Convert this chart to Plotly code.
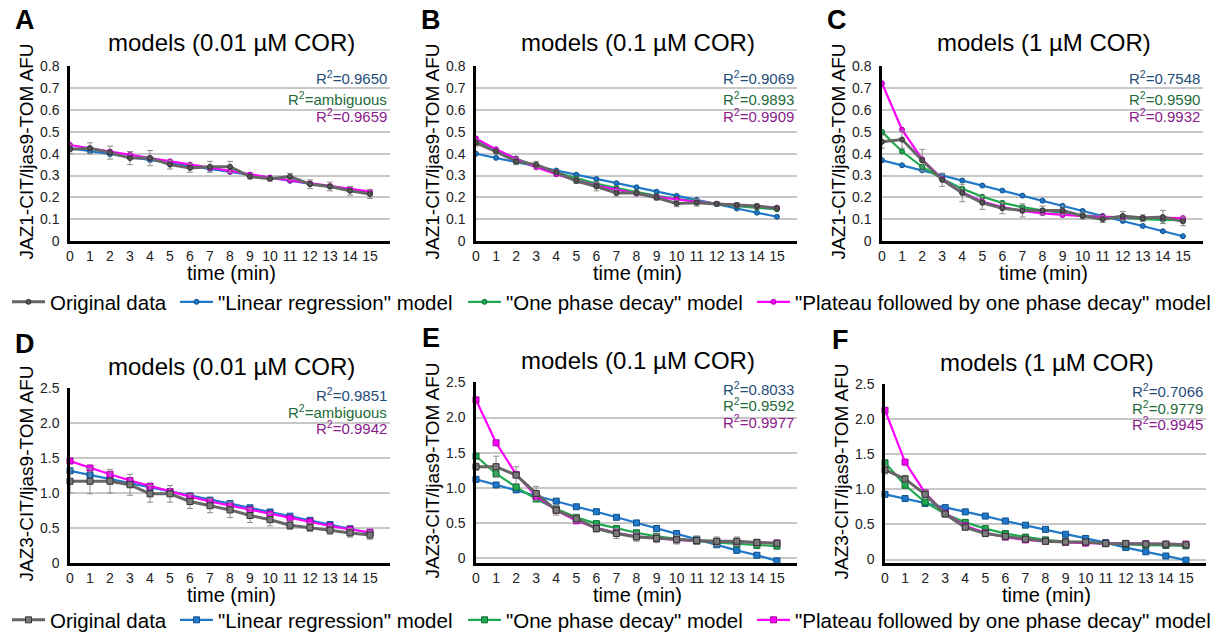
import plotly.graph_objects as go

# Time points (min)
TIME = list(range(16))
X_TICKS = list(range(16))

# --- JAZ1 panels (A-C) ---
A_orig = [0.420, 0.425, 0.405, 0.380, 0.380, 0.350, 0.335, 0.340, 0.340, 0.295, 0.285, 0.295, 0.260, 0.250, 0.230, 0.215]
A_err = [0.020, 0.025, 0.030, 0.030, 0.035, 0.020, 0.020, 0.025, 0.025, 0.010, 0.010, 0.015, 0.020, 0.020, 0.020, 0.020]
A_lin = [0.425, 0.411, 0.398, 0.384, 0.371, 0.357, 0.344, 0.330, 0.317, 0.303, 0.290, 0.276, 0.263, 0.249, 0.236, 0.222]
A_one = None
A_plat = [0.440, 0.425, 0.410, 0.395, 0.380, 0.365, 0.350, 0.334, 0.318, 0.304, 0.291, 0.278, 0.265, 0.252, 0.239, 0.226]

B_orig = [0.450, 0.410, 0.365, 0.350, 0.315, 0.275, 0.250, 0.220, 0.220, 0.198, 0.172, 0.175, 0.170, 0.165, 0.160, 0.150]
B_err = [0.015, 0.010, 0.015, 0.015, 0.010, 0.010, 0.020, 0.015, 0.010, 0.010, 0.015, 0.015, 0.010, 0.010, 0.010, 0.010]
B_lin = [0.400, 0.381, 0.361, 0.342, 0.323, 0.304, 0.284, 0.265, 0.246, 0.226, 0.207, 0.188, 0.169, 0.149, 0.130, 0.111]
B_one = [0.460, 0.417, 0.378, 0.344, 0.314, 0.287, 0.263, 0.242, 0.224, 0.207, 0.193, 0.181, 0.170, 0.160, 0.152, 0.145]
B_plat = [0.470, 0.420, 0.376, 0.338, 0.306, 0.278, 0.254, 0.234, 0.217, 0.202, 0.190, 0.180, 0.171, 0.164, 0.158, 0.153]

C_orig = [0.455, 0.465, 0.370, 0.280, 0.220, 0.175, 0.150, 0.140, 0.140, 0.140, 0.115, 0.100, 0.115, 0.105, 0.110, 0.090]
C_err = [0.030, 0.040, 0.050, 0.030, 0.040, 0.030, 0.025, 0.030, 0.020, 0.020, 0.015, 0.015, 0.020, 0.015, 0.030, 0.020]
C_lin = [0.370, 0.347, 0.324, 0.300, 0.277, 0.254, 0.231, 0.208, 0.185, 0.161, 0.138, 0.115, 0.092, 0.069, 0.045, 0.022]
C_one = [0.500, 0.410, 0.340, 0.285, 0.240, 0.203, 0.175, 0.155, 0.140, 0.128, 0.118, 0.111, 0.105, 0.100, 0.097, 0.095]
C_plat = [0.723, 0.510, 0.375, 0.285, 0.223, 0.181, 0.155, 0.138, 0.127, 0.119, 0.114, 0.111, 0.109, 0.107, 0.106, 0.105]

# --- JAZ3 panels (D-F) ---
D_orig = [1.17, 1.17, 1.17, 1.12, 0.99, 0.99, 0.88, 0.82, 0.76, 0.68, 0.62, 0.54, 0.51, 0.47, 0.43, 0.40]
D_err = [0.17, 0.18, 0.17, 0.15, 0.12, 0.12, 0.10, 0.10, 0.11, 0.10, 0.09, 0.06, 0.06, 0.06, 0.06, 0.06]
D_lin = [1.32, 1.26, 1.20, 1.14, 1.08, 1.02, 0.96, 0.90, 0.85, 0.79, 0.73, 0.67, 0.61, 0.55, 0.49, 0.43]
D_one = None
D_plat = [1.46, 1.36, 1.27, 1.18, 1.10, 1.02, 0.95, 0.88, 0.82, 0.76, 0.70, 0.64, 0.59, 0.53, 0.48, 0.44]

E_orig = [1.30, 1.30, 1.18, 0.92, 0.68, 0.56, 0.42, 0.35, 0.30, 0.28, 0.26, 0.25, 0.24, 0.24, 0.22, 0.21]
E_err = [0.05, 0.15, 0.12, 0.10, 0.07, 0.05, 0.05, 0.07, 0.06, 0.06, 0.06, 0.05, 0.06, 0.06, 0.05, 0.04]
E_lin = [1.12, 1.04, 0.97, 0.89, 0.81, 0.73, 0.66, 0.58, 0.50, 0.42, 0.35, 0.27, 0.19, 0.11, 0.04, -0.04]
E_one = [1.45, 1.20, 1.01, 0.84, 0.70, 0.58, 0.49, 0.42, 0.36, 0.31, 0.27, 0.24, 0.22, 0.20, 0.18, 0.17]
E_plat = [2.25, 1.64, 1.19, 0.88, 0.68, 0.53, 0.43, 0.36, 0.31, 0.28, 0.26, 0.245, 0.235, 0.225, 0.22, 0.215]

F_orig = [1.28, 1.15, 0.93, 0.65, 0.46, 0.37, 0.33, 0.29, 0.26, 0.25, 0.25, 0.23, 0.23, 0.22, 0.22, 0.21]
F_err = [0.06, 0.05, 0.05, 0.03, 0.03, 0.02, 0.02, 0.02, 0.02, 0.02, 0.02, 0.02, 0.02, 0.02, 0.02, 0.02]
F_lin = [0.93, 0.87, 0.80, 0.74, 0.68, 0.62, 0.55, 0.49, 0.43, 0.36, 0.30, 0.24, 0.17, 0.11, 0.05, -0.01]
F_one = [1.38, 1.06, 0.82, 0.65, 0.53, 0.44, 0.37, 0.32, 0.28, 0.255, 0.24, 0.225, 0.21, 0.205, 0.20, 0.195]
F_plat = [2.13, 1.39, 0.95, 0.66, 0.48, 0.38, 0.32, 0.28, 0.26, 0.245, 0.235, 0.23, 0.225, 0.225, 0.22, 0.22]

# R² labels per panel: (linear, one phase, plateau)
R2_A = ["0.9650", "ambiguous", "0.9659"]
R2_B = ["0.9069", "0.9893", "0.9909"]
R2_C = ["0.7548", "0.9590", "0.9932"]
R2_D = ["0.9851", "ambiguous", "0.9942"]
R2_E = ["0.8033", "0.9592", "0.9977"]
R2_F = ["0.7066", "0.9779", "0.9945"]

LETTERS = ["A", "B", "C", "D", "E", "F"]
TITLES = ["models (0.01 µM COR)", "models (0.1 µM COR)", "models (1 µM COR)",
          "models (0.01 µM COR)", "models (0.1 µM COR)", "models (1 µM COR)"]
Y_TITLES = ["JAZ1-CIT/ljas9-TOM AFU"] * 3 + ["JAZ3-CIT/ljas9-TOM AFU"] * 3

Y_TICKS_TOP = [0, 0.1, 0.2, 0.3, 0.4, 0.5, 0.6, 0.7, 0.8]
Y_TEXT_TOP = ["0", "0.1", "0.2", "0.3", "0.4", "0.5", "0.6", "0.7", "0.8"]
Y_TICKS_BOT = [0, 0.5, 1.0, 1.5, 2.0, 2.5]
Y_TEXT_BOT = ["0", "0.5", "1.0", "1.5", "2.0", "2.5"]

SERIES_NAMES = ["Original data", "\"Linear regression\" model",
                "\"One phase decay\" model", "\"Plateau followed by one phase decay\" model"]

PANELS = [
    (A_orig, A_err, A_lin, A_one, A_plat, R2_A),
    (B_orig, B_err, B_lin, B_one, B_plat, R2_B),
    (C_orig, C_err, C_lin, C_one, C_plat, R2_C),
    (D_orig, D_err, D_lin, D_one, D_plat, R2_D),
    (E_orig, E_err, E_lin, E_one, E_plat, R2_E),
    (F_orig, F_err, F_lin, F_one, F_plat, R2_F),
]

# ---------------- styling / layout ----------------
W, H = 1218, 633
FONT = "Arial, 'Liberation Sans', sans-serif"

# plot-area boxes in pixels: (left, right, top, bottom)
BOXES = [
    (70, 390, 66, 241), (476, 797, 66, 241), (882, 1203, 66, 241),
    (70, 390, 388, 563), (476, 797, 382, 563), (885, 1206, 384, 563),
]
Y_RANGES = [[0, 0.802], [0, 0.802], [0, 0.802], [0, 2.505], [-0.07, 2.505], [-0.05, 2.505]]

GREY, BLUE, GREEN, MAGENTA = "#666666", "#1f78c8", "#1faa4f", "#ff00ff"
EDGE = {GREY: "#333333", BLUE: "#0f4f8a", GREEN: "#0f6a30", MAGENTA: "#a0009e"}
R2_COLORS = ["#1f4e79", "#1e6b3a", "#8b1a8b"]

# legend entries: left pixel of each entry, one legend box per entry
LEGEND_LEFT = [7, 175, 463, 752]
LEGEND_ROW_Y = [302, 620]


def px_x(p):
    return p / W


def px_y(p):
    return 1 - p / H


def legend_name(row, rank):
    idx = row * 4 + rank
    return "legend" if idx == 1 else f"legend{idx}"


fig = go.Figure()
layout_axes = {}
annotations = []

for i, (orig, err, lin, one, plat, r2) in enumerate(PANELS):
    n = i + 1
    xa = "x" if n == 1 else f"x{n}"
    ya = "y" if n == 1 else f"y{n}"
    top_row = i < 3
    row = 0 if top_row else 1
    sym = "circle" if top_row else "square"
    msize = 5 if top_row else 6
    legend_src = (i == 1) or (i == 4)

    def add_model(vals, color, name, rank):
        if vals is None:
            return
        fig.add_trace(go.Scatter(
            x=TIME, y=vals, mode="lines+markers", name=name,
            line=dict(color=color, width=2.2),
            marker=dict(symbol=sym, size=msize, color=color,
                        line=dict(color=EDGE[color], width=1)),
            xaxis=xa, yaxis=ya, showlegend=legend_src, legend=legend_name(row, rank),
            cliponaxis=False,
        ))

    add_model(lin, BLUE, SERIES_NAMES[1], 2)
    add_model(one, GREEN, SERIES_NAMES[2], 3)
    add_model(plat, MAGENTA, SERIES_NAMES[3], 4)
    fig.add_trace(go.Scatter(
        x=TIME, y=orig, mode="lines+markers", name=SERIES_NAMES[0],
        line=dict(color=GREY, width=3),
        marker=dict(symbol=sym, size=msize, color="#7a7a7a" if not top_row else "#555555",
                    line=dict(color="#333333", width=1)),
        error_y=dict(type="data", array=err, visible=True, color="#8c8c8c",
                     thickness=1, width=3),
        xaxis=xa, yaxis=ya, showlegend=legend_src, legend=legend_name(row, 1),
        cliponaxis=False,
    ))

    left, right, top, bottom = BOXES[i]
    key_x = "xaxis" if n == 1 else f"xaxis{n}"
    key_y = "yaxis" if n == 1 else f"yaxis{n}"
    layout_axes[key_x] = dict(
        domain=[px_x(left), px_x(right)], anchor=ya, range=[0, 16],
        tickmode="array", tickvals=X_TICKS, ticktext=[str(t) for t in X_TICKS],
        showgrid=False, zeroline=False, showline=True, linecolor="black", linewidth=2.5,
        ticks="", tickfont=dict(family=FONT, size=14, color="#222222"),
    )
    layout_axes[key_y] = dict(
        domain=[px_y(bottom), px_y(top)], anchor=xa, range=Y_RANGES[i],
        tickmode="array",
        tickvals=Y_TICKS_TOP if top_row else Y_TICKS_BOT,
        ticktext=Y_TEXT_TOP if top_row else Y_TEXT_BOT,
        showgrid=True, gridcolor="#c8c8c8", gridwidth=2,
        zeroline=False, showline=True, linecolor="black", linewidth=2.5,
        ticks="", ticklabelstandoff=5, tickfont=dict(family=FONT, size=14, color="#222222"),
    )

    cx = (left + right) / 2
    # panel letter
    annotations.append(dict(text=f"<b>{LETTERS[i]}</b>", x=px_x(left - 45), y=px_y(top - 46 if top_row else top - 44),
                            xref="paper", yref="paper", showarrow=False, xanchor="center", yanchor="middle",
                            font=dict(family=FONT, size=27, color="black")))
    # title
    annotations.append(dict(text=TITLES[i], x=px_x(cx + 1), y=px_y(top - 23 if top_row else top - 22),
                            xref="paper", yref="paper", showarrow=False, xanchor="center", yanchor="middle",
                            font=dict(family=FONT, size=24, color="black")))
    # y-axis title
    annotations.append(dict(text=Y_TITLES[i], x=px_x(left - 44), y=px_y((top + bottom) / 2 - 2),
                            xref="paper", yref="paper", showarrow=False, textangle=-90,
                            xanchor="center", yanchor="middle",
                            font=dict(family=FONT, size=19, color="black")))
    # x-axis title
    annotations.append(dict(text="time (min)", x=px_x(left + 161), y=px_y(bottom + 32),
                            xref="paper", yref="paper", showarrow=False, xanchor="center", yanchor="middle",
                            font=dict(family=FONT, size=20, color="black")))
    # R² labels
    offs = [11, 32, 49] if top_row else [6, 23, 39]
    for k in range(3):
        annotations.append(dict(text=f"R<sup>2</sup>={r2[k]}", x=px_x(right - 1), y=px_y(top + offs[k]),
                                xref="paper", yref="paper", showarrow=False, xanchor="right", yanchor="middle",
                                font=dict(family=FONT, size=15, color=R2_COLORS[k])))

legend_style = dict(orientation="h", xanchor="left", yanchor="middle", bgcolor="rgba(0,0,0,0)",
                    font=dict(family=FONT, size=20.5, color="black"), itemwidth=33)
legends = {}
for row in range(2):
    for rank in range(1, 5):
        legends[legend_name(row, rank)] = dict(
            x=px_x(LEGEND_LEFT[rank - 1]), y=px_y(LEGEND_ROW_Y[row]), **legend_style)

fig.update_layout(
    width=W, height=H, margin=dict(l=0, r=0, t=0, b=0, autoexpand=False),
    paper_bgcolor="white", plot_bgcolor="white",
    annotations=annotations,
    **legends,
    **layout_axes,
)

fig.write_html("out.html")
